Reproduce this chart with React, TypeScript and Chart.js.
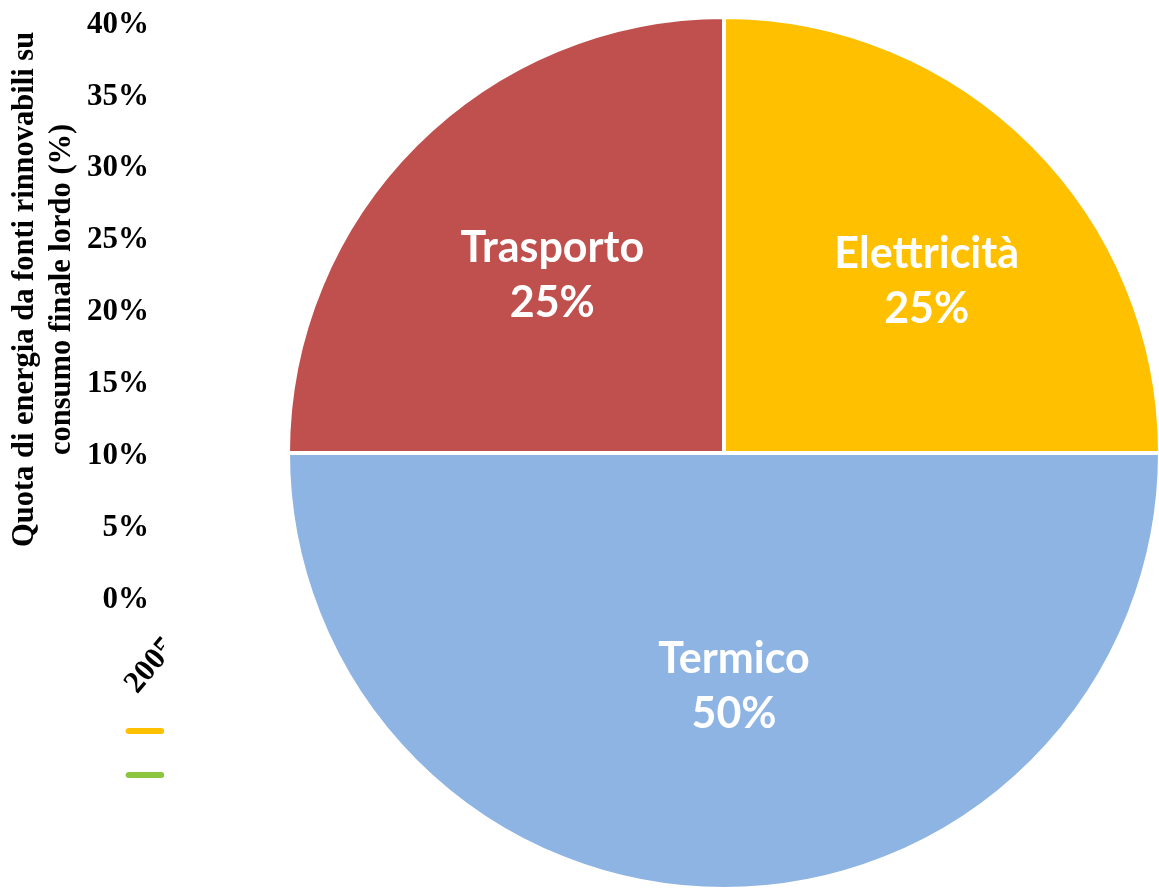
import React, { useEffect, useRef } from "react";
import { Chart, registerables } from "chart.js";

Chart.register(...registerables);

// ---- Pie data ----
const sliceLabels = ["Elettricità", "Termico", "Trasporto"];
const sliceValues = [25, 50, 25];
const sliceColors = ["#FFC000", "#8EB4E3", "#C0504D"];

// ---- Background line chart data (mostly covered by the pie) ----
const years = ["2005", "2006", "2007", "2008", "2009", "2010", "2011", "2012", "2013", "2014", "2015", "2016", "2017", "2018", "2019", "2020"];
const quotaRilevata = [7.5, 8.3, 9.8, 11.5, 12.8, 13.0, 12.9, 15.4, 16.7, 17.1, 17.5, 17.4, 18.3, 17.8, 18.2, 20.4];
const traiettoriaObiettivo = [null, null, null, null, null, 5.2, 7.6, 7.6, 8.7, 8.7, 10.5, 10.5, 12.9, 12.9, 15.0, 17.0];
const seriesNames = ["Quota FER rilevata", "Traiettoria obiettivo"];
const seriesColors = ["#FFC000", "#8CC63F"];
const yTicks = [0, 5, 10, 15, 20, 25, 30, 35, 40];
const yTitle = ["Quota di energia da fonti rinnovabili su", "consumo finale lordo (%)"];

// label placement nudges (px) per slice, style only
const labelNudge = [
  [27, 3],
  [10, -16],
  [4, -3],
];

const SERIF = "'Liberation Serif', 'Times New Roman', serif";

const legendShift = {
  id: "legendShift",
  afterLayout(chart: any) {
    if (chart.legend) chart.legend.left = 111;
  },
};

const pieLabels = {
  id: "pieLabels",
  afterDatasetsDraw(chart: any) {
    const ctx = chart.ctx;
    const meta = chart.getDatasetMeta(0);
    const data = chart.data.datasets[0].data;
    meta.data.forEach((arc: any, i: number) => {
      const p = arc.getProps(["x", "y", "startAngle", "endAngle", "outerRadius"], true);
      const mid = (p.startAngle + p.endAngle) / 2;
      const r = p.outerRadius * 0.57;
      const cx = p.x + Math.cos(mid) * r + labelNudge[i][0];
      const cy = p.y + Math.sin(mid) * r + labelNudge[i][1];
      ctx.save();
      ctx.fillStyle = "#ffffff";
      ctx.font = "bold 43px Lato";
      ctx.textAlign = "center";
      ctx.textBaseline = "alphabetic";
      ctx.fillText(chart.data.labels[i], cx, cy - 12.5);
      ctx.fillText(`${data[i]}%`, cx, cy + 42.5);
      ctx.restore();
    });
  },
};

export default function App() {
  const lineRef = useRef<HTMLCanvasElement | null>(null);
  const pieRef = useRef<HTMLCanvasElement | null>(null);

  useEffect(() => {
    const tickFont = { family: SERIF, size: 31, weight: "bold" as const };
    const pad = "\u00a0".repeat(6);
    const lineChart = new Chart(lineRef.current!, {
      type: "line",
      data: {
        labels: years,
        datasets: [
          {
            label: seriesNames[0],
            data: quotaRilevata,
            borderColor: seriesColors[0],
            backgroundColor: seriesColors[0],
            borderWidth: 3,
            pointRadius: 0,
            fill: false,
          },
          {
            label: seriesNames[1],
            data: traiettoriaObiettivo,
            borderColor: seriesColors[1],
            backgroundColor: seriesColors[1],
            borderWidth: 3,
            pointRadius: 0,
            fill: false,
          },
        ],
      },
      options: {
        responsive: true,
        maintainAspectRatio: false,
        animation: false,
        layout: { padding: { left: 3, top: 0, right: 10, bottom: 92 } },
        plugins: {
          legend: {
            position: "bottom",
            align: "start",
            labels: {
              font: { family: SERIF, size: 28, weight: "bold" },
              color: "#000",
              boxWidth: 36,
              boxHeight: 3,
              padding: 16,
              useBorderRadius: true,
              borderRadius: 2,
            },
          },
          tooltip: { enabled: false },
        },
        scales: {
          x: {
            grid: { display: false, drawTicks: false },
            border: { display: false },
            ticks: { font: { family: SERIF, size: 31, weight: "bold" }, color: "#000", minRotation: 50, maxRotation: 50, padding: 30, autoSkip: true },
            afterFit: (s: any) => {
              s.height = 101;
            },
          },
          y: {
            min: 0,
            max: 40,
            grid: { display: false, drawTicks: true, tickLength: 16 },
            border: { display: false },
            afterBuildTicks: (s: any) => {
              s.ticks = yTicks.map((v) => ({ value: v }));
            },
            ticks: { font: tickFont, color: "#000", padding: 6, callback: (v: any) => `${v}%` },
            title: {
              display: true,
              text: yTitle.map((t) => pad + t),
              color: "#000",
              font: { family: SERIF, size: 30.5, weight: "bold", lineHeight: 1.213 },
              padding: { top: 4, bottom: 4 },
            },
            afterFit: (s: any) => {
              s.width = 168;
            },
          },
        },
      },
      plugins: [legendShift],
    });

    const pieChart = new Chart(pieRef.current!, {
      type: "pie",
      data: {
        labels: sliceLabels,
        datasets: [
          {
            data: sliceValues,
            backgroundColor: sliceColors,
            borderColor: "#ffffff",
            borderWidth: 4,
          },
        ],
      },
      options: {
        responsive: true,
        maintainAspectRatio: false,
        animation: false,
        layout: { padding: { left: 122, right: 2, top: 15, bottom: 9 } },
        plugins: { legend: { display: false }, tooltip: { enabled: false } },
      },
      plugins: [pieLabels],
    });

    return () => {
      lineChart.destroy();
      pieChart.destroy();
    };
  }, []);

  return (
    <div style={{ position: "fixed", left: 0, top: 0, width: 1159, height: 891, overflow: "hidden", background: "#fff" }}>
      <div style={{ position: "absolute", left: 0, top: 0, width: 420, height: 891 }}>
        <canvas ref={lineRef} />
      </div>
      <div style={{ position: "absolute", left: 164, top: 0, width: 1000, height: 900, background: "#fff" }}>
        <canvas ref={pieRef} />
      </div>
    </div>
  );
}
